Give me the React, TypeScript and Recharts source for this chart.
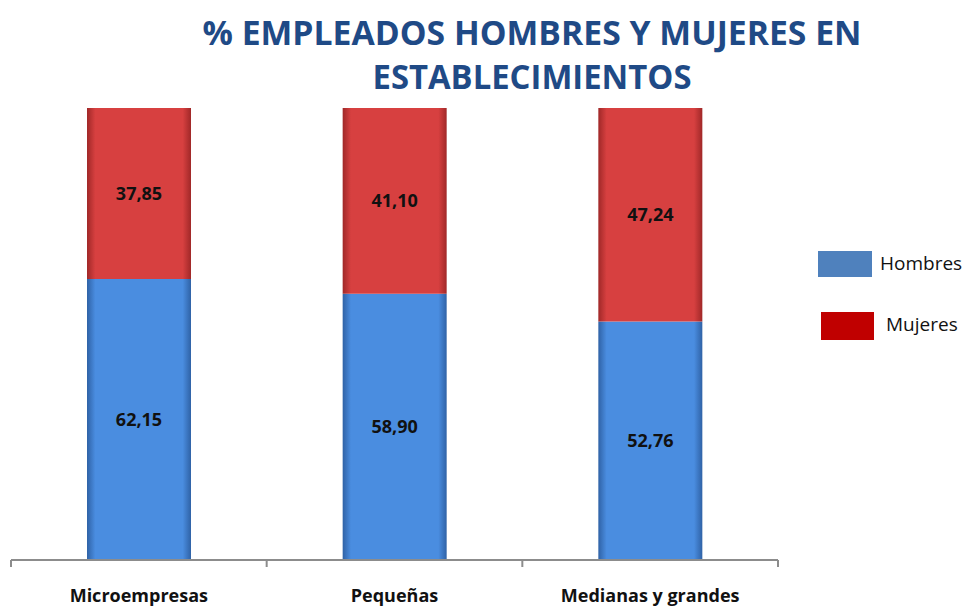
import React from 'react';
import { BarChart, Bar, XAxis, YAxis, LabelList, Legend } from 'recharts';

const categories = ['Microempresas', 'Pequeñas', 'Medianas y grandes'];
const hombres = [62.15, 58.9, 52.76];
const mujeres = [37.85, 41.1, 47.24];
const titleLines = ['% EMPLEADOS HOMBRES Y MUJERES EN', 'ESTABLECIMIENTOS'];
const seriesNames = ['Hombres', 'Mujeres'];

const data = categories.map((c, i) => ({ name: c, hombres: hombres[i], mujeres: mujeres[i] }));

const W = 973;
const H = 608;
const LEG_W = 160;
const AX_H = 48;
const M = { top: 108, right: 195 - LEG_W, bottom: 0, left: 11 };
const band = (W - 11 - 195) / categories.length;

const fmt = (v: any) => Number(v).toFixed(2).replace('.', ',');

const CatTick = (props: any) => {
  const { x, y, payload, index } = props;
  const left = x - band / 2;
  return (
    <g>
      <line x1={left} y1={y - 8} x2={left} y2={y - 1} stroke="#8c8c8c" strokeWidth={2} />
      {index === categories.length - 1 && (
        <line x1={x + band / 2} y1={y - 8} x2={x + band / 2} y2={y - 1} stroke="#8c8c8c" strokeWidth={2} />
      )}
      <text x={x} y={y + 34} textAnchor="middle" fontFamily="Open Sans" fontWeight={700} fontSize={18} fill="#111">
        {payload.value}
      </text>
    </g>
  );
};

const LegendContent = () => (
  <div style={{ position: 'relative', width: LEG_W, height: 100, fontFamily: 'Open Sans', fontSize: 19, color: '#111' }}>
    <div style={{ position: 'absolute', left: 0, top: 0, width: 54, height: 26, background: '#4F81BD' }} />
    <div style={{ position: 'absolute', left: 62, top: -1, lineHeight: '26px' }}>{seriesNames[0]}</div>
    <div style={{ position: 'absolute', left: 3, top: 61, width: 53, height: 28, background: '#C00000' }} />
    <div style={{ position: 'absolute', left: 68, top: 60, lineHeight: '26px' }}>{seriesNames[1]}</div>
  </div>
);

export default function App() {
  return (
    <div style={{ position: 'absolute', left: 0, top: 0, width: W, height: H, background: '#fff' }}>
      <svg width={W} height={110} style={{ position: 'absolute', left: 0, top: 0 }}>
        <text x={532} y={45} textAnchor="middle" fontFamily="Open Sans" fontWeight={700} fontSize={34} fill="#1F4A86" textLength={659} lengthAdjust="spacingAndGlyphs">
          {titleLines[0]}
        </text>
        <text x={532} y={89} textAnchor="middle" fontFamily="Open Sans" fontWeight={700} fontSize={34} fill="#1F4A86" textLength={319} lengthAdjust="spacingAndGlyphs">
          {titleLines[1]}
        </text>
      </svg>
      <div style={{ position: 'absolute', left: 0, top: 0 }}>
        <BarChart width={W} height={H} data={data} margin={M} barSize={104}>
          <defs>
            <linearGradient id="gBlue" x1="0" y1="0" x2="1" y2="0">
              <stop offset="0" stopColor="#2f62a6" />
              <stop offset="0.08" stopColor="#4a8de0" />
              <stop offset="0.92" stopColor="#4a8de0" />
              <stop offset="1" stopColor="#2f62a6" />
            </linearGradient>
            <linearGradient id="gRed" x1="0" y1="0" x2="1" y2="0">
              <stop offset="0" stopColor="#a02828" />
              <stop offset="0.08" stopColor="#d74040" />
              <stop offset="0.92" stopColor="#d74040" />
              <stop offset="1" stopColor="#a02828" />
            </linearGradient>
          </defs>
          <XAxis
            dataKey="name"
            axisLine={{ stroke: '#8c8c8c', strokeWidth: 2 }}
            tickLine={false}
            tick={<CatTick />}
            height={AX_H}
            interval={0}
          />
          <YAxis hide domain={[0, 100]} />
          <Legend
            layout="vertical"
            align="right"
            verticalAlign="top"
            content={<LegendContent />}
            wrapperStyle={{ position: 'absolute', left: 818, top: 251, width: LEG_W }}
          />
          <Bar dataKey="hombres" name={seriesNames[0]} stackId="a" fill="url(#gBlue)" isAnimationActive={false}>
            <LabelList dataKey="hombres" position="center" formatter={fmt} fill="#111" fontFamily="Open Sans" fontWeight={700} fontSize={18} />
          </Bar>
          <Bar dataKey="mujeres" name={seriesNames[1]} stackId="a" fill="url(#gRed)" isAnimationActive={false}>
            <LabelList dataKey="mujeres" position="center" formatter={fmt} fill="#111" fontFamily="Open Sans" fontWeight={700} fontSize={18} />
          </Bar>
        </BarChart>
      </div>
    </div>
  );
}
